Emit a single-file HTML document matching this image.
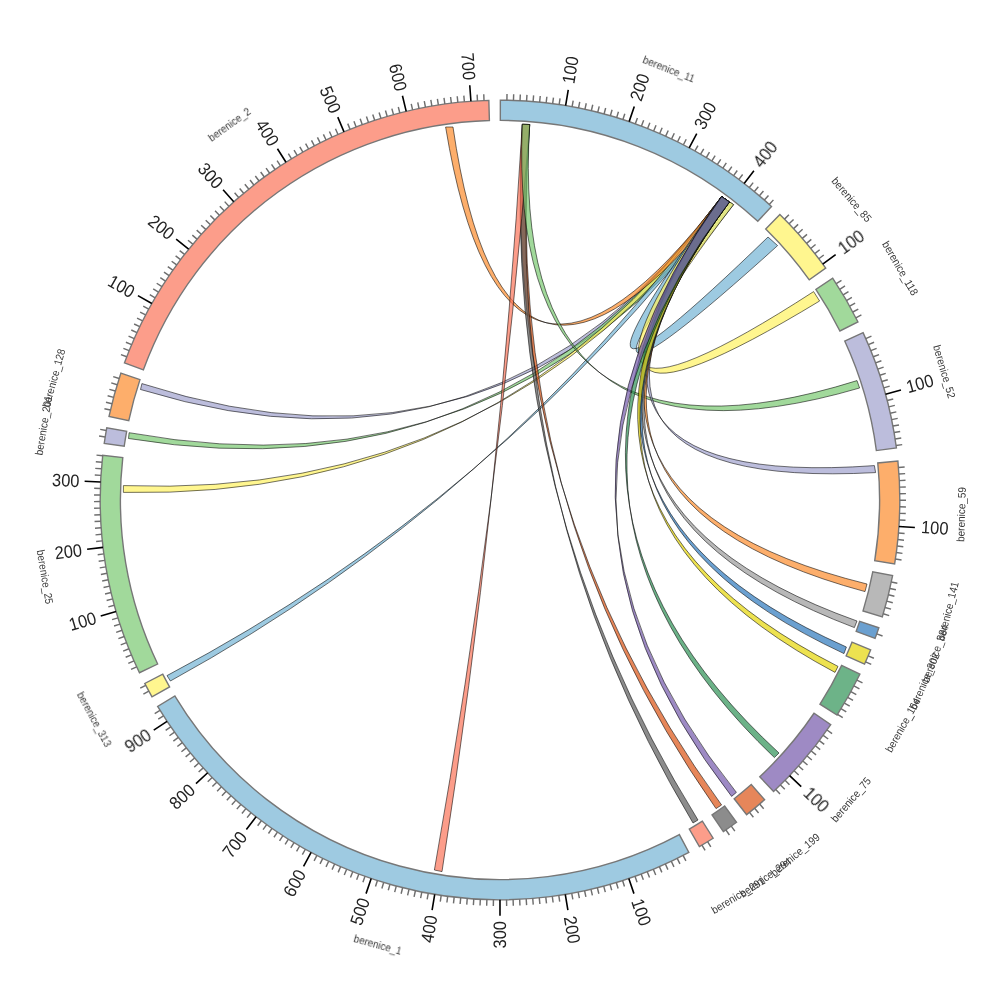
<!DOCTYPE html>
<html><head><meta charset="utf-8"><title>chord</title>
<style>html,body{margin:0;padding:0;background:#fff;}svg{display:block;}</style>
</head><body>
<svg width="1000" height="1000" viewBox="0 0 1000 1000">
<rect width="1000" height="1000" fill="#ffffff"/>
<g stroke="#000" stroke-opacity="0.85" stroke-width="0.65" stroke-linejoin="round" fill-opacity="0.70">
<path d="M721.6,196.6 Q499.92,499.76 140.5,389.5 L141.9,383.6 Q499.97,499.89 729.4,202 Z" fill="#9fa1cd"/>
<path d="M721.6,196.6 Q500,500 128.5,438.5 L129.1,432.7 Q500,500 729.4,202 Z" fill="#79c970"/>
<path d="M721.6,196.6 Q500,500 123.4,492.4 L123.4,485.6 Q500,500 726.28,199.84 Z" fill="#fff25f"/>
<path d="M721.6,196.6 Q500,500 170.4,681 L167,675.6 Q500,500 726.67,200.11 Z" fill="#74b3d4"/>
<path d="M721.6,196.6 Q504.3,482.65 445.6,127 L453,127 Q504.63,482.68 726.67,200.11 Z" fill="#fc8b2c"/>
<path d="M522.3,124.3 Q500,500 721.6,805 L716,808.6 Q500,500 529.7,124.5 Z" fill="#db5213"/>
<path d="M522.3,124.3 Q500,500 698,820 L693,823 Q500,500 529.7,124.5 Z" fill="#5b5b5b"/>
<path d="M522.3,124.3 Q500,500 442,871.6 L434.4,870 Q500,500 529.7,124.5 Z" fill="#fb7358"/>
<path d="M721.6,196.6 Q517.94,479.24 768,237 L777.6,245.6 Q518.73,479.86 733.6,204.6 Z" fill="#74b3d4"/>
<path d="M721.6,196.6 Q517.69,483.08 813.6,291.6 L819.6,301 Q518.35,483.6 733.6,204.6 Z" fill="#fff25f"/>
<path d="M522.3,124.3 Q506.95,490.93 857,380.6 L859.6,388 Q507.12,491.09 529.7,124.5 Z" fill="#79c970"/>
<path d="M721.6,196.6 Q514.57,491.74 874.4,465.6 L875.6,472.6 Q514.83,492.02 729.4,202 Z" fill="#9fa1cd"/>
<path d="M721.6,196.6 Q511.05,495.87 867,584 L865,591.6 Q511.21,496.11 729.4,202 Z" fill="#fc8b2c"/>
<path d="M721.6,196.6 Q509.73,496.92 857,621 L854.4,627.6 Q509.89,497.11 729.4,202 Z" fill="#9a9a9a"/>
<path d="M721.6,196.6 Q508.71,497.59 846.4,647 L844,653.6 Q508.87,497.76 729.4,202 Z" fill="#2c77bc"/>
<path d="M721.6,196.6 Q507.93,498.05 838,666.4 L835,672.4 Q508.08,498.2 729.4,202 Z" fill="#e5d605"/>
<path d="M721.6,196.6 Q503.78,499.61 779,753 L774.4,757.6 Q503.91,499.68 729.4,202 Z" fill="#2e9255"/>
<path d="M721.6,196.6 Q501.39,499.97 736.4,792.4 L731.6,796.4 Q501.53,499.99 729.4,202 Z" fill="#7458ab"/>
</g>
<g stroke="#777" stroke-width="1.4" stroke-linejoin="miter">
<path d="M500.35,100.2 A399.8,399.8 0 0 1 771.49,206.51 L757.77,221.34 A379.6,379.6 0 0 0 500.33,120.4 Z" fill="#9ecae1"/>
<path d="M779.87,214.5 A399.8,399.8 0 0 1 825.73,268.18 L809.27,279.89 A379.6,379.6 0 0 0 765.73,228.93 Z" fill="#fff68f"/>
<path d="M832.65,278.23 A399.8,399.8 0 0 1 857.98,321.98 L839.89,330.98 A379.6,379.6 0 0 0 815.85,289.44 Z" fill="#a1d99b"/>
<path d="M863.08,332.62 A399.8,399.8 0 0 1 896.4,447.95 L876.37,450.58 A379.6,379.6 0 0 0 844.73,341.08 Z" fill="#bcbddc"/>
<path d="M897.89,460.99 A399.8,399.8 0 0 1 894.66,563.92 L874.72,560.69 A379.6,379.6 0 0 0 877.79,462.96 Z" fill="#fdae6b"/>
<path d="M892.59,575.6 A399.8,399.8 0 0 1 882.35,616.82 L863.03,610.92 A379.6,379.6 0 0 0 872.75,571.78 Z" fill="#b8b8b8"/>
<path d="M878.85,627.72 A399.8,399.8 0 0 1 875.09,638.38 L856.14,631.39 A379.6,379.6 0 0 0 859.71,621.27 Z" fill="#6ba0d0"/>
<path d="M870.69,649.77 A399.8,399.8 0 0 1 864.58,664.08 L846.16,655.79 A379.6,379.6 0 0 0 851.96,642.2 Z" fill="#ede250"/>
<path d="M859.86,674.19 A399.8,399.8 0 0 1 837.04,715.05 L820.01,704.18 A379.6,379.6 0 0 0 841.67,665.39 Z" fill="#6db388"/>
<path d="M830.75,724.61 A399.8,399.8 0 0 1 773.58,791.54 L759.76,776.81 A379.6,379.6 0 0 0 814.03,713.26 Z" fill="#9e8ac4"/>
<path d="M764.6,799.71 A399.8,399.8 0 0 1 746.64,814.66 L734.17,798.76 A379.6,379.6 0 0 0 751.23,784.57 Z" fill="#e6865a"/>
<path d="M736.57,822.29 A399.8,399.8 0 0 1 723.33,831.61 L712.05,814.85 A379.6,379.6 0 0 0 724.62,806.01 Z" fill="#8c8c8c"/>
<path d="M713.16,838.23 A399.8,399.8 0 0 1 699.36,846.55 L689.28,829.04 A379.6,379.6 0 0 0 702.39,821.14 Z" fill="#fc9d8a"/>
<path d="M688.86,852.38 A399.8,399.8 0 0 1 157.63,706.45 L174.93,696.02 A379.6,379.6 0 0 0 679.32,834.57 Z" fill="#9ecae1"/>
<path d="M152,696.81 A399.8,399.8 0 0 1 144.76,683.43 L162.71,674.16 A379.6,379.6 0 0 0 169.58,686.87 Z" fill="#fff68f"/>
<path d="M139.45,672.75 A399.8,399.8 0 0 1 102.71,455.3 L122.78,457.55 A379.6,379.6 0 0 0 157.66,664.02 Z" fill="#a1d99b"/>
<path d="M104.23,443.39 A399.8,399.8 0 0 1 106.79,427.69 L126.66,431.34 A379.6,379.6 0 0 0 124.22,446.25 Z" fill="#bcbddc"/>
<path d="M109.02,416.47 A399.8,399.8 0 0 1 120.84,373.21 L140,379.61 A379.6,379.6 0 0 0 128.78,420.69 Z" fill="#fdae6b"/>
<path d="M124.43,362.93 A399.8,399.8 0 0 1 488.84,100.36 L489.4,120.55 A379.6,379.6 0 0 0 143.41,369.86 Z" fill="#fc9d8a"/>
</g>
<path d="M506.91,100.26 L507.01,94.06 M513.46,100.43 L513.67,94.23 M520.01,100.7 L520.32,94.51 M526.56,101.08 L526.97,94.9 M533.1,101.57 L533.61,95.39 M539.63,102.17 L540.24,96 M546.15,102.87 L546.86,96.71 M552.65,103.68 L553.47,97.54 M559.14,104.6 L560.06,98.47 M572.08,106.75 L573.2,100.65 M578.52,107.99 L579.74,101.91 M584.94,109.33 L586.26,103.27 M591.33,110.77 L592.75,104.74 M597.71,112.32 L599.22,106.31 M604.05,113.98 L605.66,107.99 M610.37,115.74 L612.08,109.78 M616.65,117.6 L618.46,111.67 M622.91,119.56 L624.82,113.66 M635.32,123.8 L637.42,117.96 M641.47,126.07 L643.67,120.27 M647.59,128.44 L649.87,122.68 M653.66,130.91 L656.04,125.18 M659.69,133.48 L662.17,127.79 M665.68,136.15 L668.25,130.5 M671.63,138.91 L674.29,133.31 M677.53,141.78 L680.28,136.22 M683.38,144.73 L686.22,139.23 M694.93,150.94 L697.95,145.53 M700.63,154.18 L703.74,148.82 M706.27,157.52 L709.47,152.21 M711.86,160.95 L715.15,155.69 M717.39,164.47 L720.76,159.27 M722.87,168.08 L726.32,162.93 M728.28,171.78 L731.82,166.69 M733.63,175.57 L737.25,170.54 M738.92,179.44 L742.63,174.47 M749.31,187.45 L753.17,182.6 M754.4,191.58 L758.34,186.8 M759.42,195.8 L763.44,191.08 M764.38,200.09 L768.48,195.44 M769.26,204.47 L773.43,199.88 M784.52,219.13 L788.93,214.77 M789.09,223.83 L793.57,219.55 M793.58,228.61 L798.13,224.4 M797.99,233.46 L802.61,229.33 M802.32,238.38 L807.01,234.33 M806.57,243.38 L811.32,239.4 M810.74,248.44 L815.56,244.54 M814.82,253.57 L819.7,249.75 M818.82,258.77 L823.76,255.03 M836.25,283.72 L841.46,280.36 M839.75,289.26 L845.02,285.99 M843.16,294.86 L848.48,291.68 M846.48,300.52 L851.85,297.42 M849.7,306.22 L855.12,303.22 M852.83,311.99 L858.3,309.07 M855.87,317.8 L861.39,314.97 M865.77,338.6 L871.44,336.09 M868.37,344.62 L874.08,342.21 M870.87,350.68 L876.62,348.36 M873.27,356.78 L879.06,354.56 M875.57,362.92 L881.39,360.8 M877.76,369.1 L883.62,367.07 M879.86,375.31 L885.75,373.38 M881.85,381.56 L887.78,379.72 M883.74,387.84 L889.7,386.1 M887.22,400.48 L893.22,398.94 M888.8,406.85 L894.83,405.4 M890.27,413.24 L896.32,411.89 M891.64,419.65 L897.72,418.4 M892.91,426.08 L899,424.94 M894.07,432.54 L900.18,431.49 M895.12,439.01 L901.25,438.06 M896.07,445.5 L902.21,444.65 M898.48,467.52 L904.66,467.01 M898.96,474.06 L905.14,473.65 M899.33,480.6 L905.52,480.3 M899.59,487.15 L905.79,486.96 M899.75,493.71 L905.95,493.61 M899.8,500.27 L906,500.27 M899.74,506.82 L905.94,506.93 M899.58,513.38 L905.77,513.59 M899.3,519.93 L905.5,520.24 M898.43,533.01 L904.61,533.53 M897.84,539.54 L904.01,540.16 M897.14,546.06 L903.3,546.78 M896.33,552.57 L902.47,553.39 M895.41,559.06 L901.55,559.98 M891.29,582.03 L897.36,583.3 M889.9,588.43 L895.94,589.81 M888.39,594.82 L894.42,596.29 M886.79,601.17 L892.78,602.74 M885.08,607.5 L891.05,609.17 M883.26,613.8 L889.2,615.57 M876.71,633.91 L882.55,635.99 M868.18,655.83 L873.89,658.24 M865.58,661.84 L871.25,664.35 M856.95,680.07 L862.49,682.86 M853.95,685.9 L859.44,688.78 M850.85,691.68 L856.29,694.65 M847.66,697.41 L853.05,700.47 M844.38,703.09 L849.72,706.23 M841,708.71 L846.29,711.94 M837.53,714.27 L842.77,717.59 M827.02,730 L832.09,733.57 M823.2,735.33 L828.21,738.98 M819.3,740.6 L824.25,744.33 M815.31,745.8 L820.2,749.62 M811.24,750.94 L816.06,754.83 M807.08,756.01 L811.84,759.98 M802.84,761.02 L807.53,765.06 M798.52,765.95 L803.15,770.07 M794.12,770.81 L798.68,775.01 M785.08,780.31 L789.5,784.65 M780.44,784.94 L784.79,789.36 M775.73,789.51 L780.01,793.99 M759.65,804.01 L763.68,808.72 M754.63,808.23 L758.58,813.01 M749.54,812.36 L753.41,817.2 M731.26,826.13 L734.84,831.19 M725.88,829.88 L729.38,834.99 M707.59,841.68 L710.81,846.98 M701.95,845.04 L705.09,850.39 M683.06,855.43 L685.9,860.94 M677.21,858.38 L679.95,863.94 M671.3,861.24 L673.96,866.84 M665.36,864 L667.92,869.65 M659.37,866.66 L661.84,872.35 M653.33,869.23 L655.71,874.95 M647.25,871.69 L649.54,877.46 M641.14,874.06 L643.33,879.86 M634.99,876.32 L637.08,882.16 M622.57,880.55 L624.47,886.45 M616.31,882.51 L618.12,888.44 M610.02,884.36 L611.73,890.32 M603.71,886.12 L605.31,892.1 M597.36,887.76 L598.87,893.78 M590.99,889.31 L592.4,895.35 M584.59,890.75 L585.9,896.81 M578.17,892.08 L579.38,898.16 M571.73,893.31 L572.84,899.41 M558.79,895.45 L559.7,901.59 M552.3,896.36 L553.11,902.51 M545.79,897.17 L546.5,903.33 M539.27,897.87 L539.88,904.04 M532.74,898.46 L533.25,904.64 M526.2,898.94 L526.61,905.13 M519.66,899.32 L519.96,905.51 M513.1,899.59 L513.31,905.78 M506.55,899.75 L506.65,905.95 M493.44,899.75 L493.33,905.95 M486.88,899.58 L486.68,905.78 M480.33,899.32 L480.02,905.51 M473.78,898.94 L473.38,905.13 M467.24,898.46 L466.74,904.64 M460.71,897.87 L460.1,904.04 M454.19,897.17 L453.48,903.33 M447.69,896.36 L446.88,902.51 M441.19,895.45 L440.28,901.58 M428.26,893.31 L427.14,899.41 M421.82,892.08 L420.6,898.16 M415.4,890.75 L414.08,896.81 M409,889.31 L407.59,895.34 M402.63,887.76 L401.12,893.77 M396.28,886.11 L394.67,892.1 M389.96,884.36 L388.26,890.32 M383.67,882.5 L381.87,888.43 M377.42,880.54 L375.51,886.44 M365,876.32 L362.91,882.15 M358.85,874.05 L356.66,879.85 M352.73,871.69 L350.45,877.45 M346.66,869.22 L344.28,874.95 M340.62,866.66 L338.15,872.34 M334.63,864 L332.07,869.64 M328.68,861.23 L326.03,866.84 M322.78,858.38 L320.03,863.93 M316.93,855.42 L314.09,860.93 M305.37,849.23 L302.35,854.64 M299.67,845.99 L296.56,851.35 M294.02,842.66 L290.83,847.97 M288.43,839.23 L285.15,844.49 M282.89,835.72 L279.53,840.92 M277.42,832.11 L273.97,837.26 M272,828.42 L268.47,833.51 M266.65,824.63 L263.03,829.67 M261.35,820.76 L257.65,825.74 M250.96,812.76 L247.1,817.61 M245.87,808.64 L241.93,813.42 M240.84,804.43 L236.82,809.15 M235.88,800.14 L231.78,804.79 M230.99,795.76 L226.82,800.35 M226.18,791.31 L221.93,795.83 M221.44,786.78 L217.12,791.23 M216.77,782.17 L212.38,786.55 M212.18,777.49 L207.72,781.8 M203.24,767.9 L198.64,772.06 M198.88,763 L194.21,767.08 M194.61,758.03 L189.88,762.03 M190.42,752.98 L185.62,756.91 M186.31,747.87 L181.45,751.72 M182.29,742.69 L177.36,746.46 M178.35,737.45 L173.36,741.13 M174.5,732.14 L169.45,735.74 M170.74,726.78 L165.63,730.29 M163.48,715.85 L158.26,719.2 M159.98,710.31 L154.71,713.57 M148.82,691.08 L143.37,694.04 M145.73,685.29 L140.24,688.16 M136.66,666.81 L131.03,669.4 M133.98,660.83 L128.3,663.32 M131.39,654.81 L125.67,657.21 M128.9,648.74 L123.14,651.05 M126.51,642.63 L120.72,644.85 M124.22,636.49 L118.39,638.61 M122.03,630.31 L116.17,632.33 M119.95,624.09 L114.05,626.02 M117.96,617.84 L112.04,619.67 M114.3,605.25 L108.32,606.88 M112.63,598.91 L106.62,600.44 M111.06,592.54 L105.03,593.98 M109.59,586.15 L103.54,587.49 M108.23,579.74 L102.16,580.97 M106.98,573.3 L100.88,574.44 M105.83,566.85 L99.72,567.88 M104.78,560.37 L98.66,561.31 M103.85,553.88 L97.7,554.72 M102.29,540.86 L96.13,541.5 M101.68,534.33 L95.5,534.87 M101.17,527.8 L94.98,528.23 M100.77,521.25 L94.57,521.58 M100.47,514.7 L94.27,514.93 M100.28,508.15 L94.08,508.27 M100.2,501.59 L94,501.62 M100.23,495.03 L94.03,494.96 M100.37,488.48 L94.17,488.3 M100.96,475.38 L94.77,475 M101.42,468.84 L95.24,468.35 M101.98,462.31 L95.81,461.72 M102.65,455.78 L96.49,455.1 M105.21,436.91 L99.09,435.93 M106.3,430.44 L100.19,429.36 M110.45,410.07 L104.41,408.67 M111.97,403.69 L105.96,402.2 M113.61,397.34 L107.61,395.75 M115.34,391.02 L109.38,389.33 M117.18,384.72 L111.24,382.93 M119.12,378.46 L113.22,376.57 M126.73,356.79 L120.94,354.57 M129.13,350.69 L123.38,348.37 M131.63,344.63 L125.91,342.22 M134.22,338.61 L128.55,336.1 M136.92,332.63 L131.29,330.03 M139.71,326.7 L134.13,324.01 M142.6,320.81 L137.06,318.03 M145.59,314.97 L140.1,312.11 M148.67,309.19 L143.22,306.23 M155.12,297.77 L149.77,294.63 M158.48,292.14 L153.19,288.92 M161.94,286.57 L156.7,283.26 M165.48,281.05 L160.3,277.65 M169.12,275.59 L163.99,272.11 M172.84,270.2 L167.77,266.63 M176.66,264.86 L171.64,261.22 M180.56,259.59 L175.6,255.86 M184.54,254.39 L179.65,250.58 M192.77,244.17 L188,240.2 M197,239.17 L192.31,235.12 M201.32,234.23 L196.69,230.11 M205.72,229.37 L201.16,225.17 M210.2,224.58 L205.71,220.31 M214.76,219.87 L210.33,215.52 M219.39,215.22 L215.04,210.81 M224.1,210.66 L219.82,206.17 M228.88,206.17 L224.67,201.62 M238.66,197.44 L234.61,192.75 M243.66,193.2 L239.68,188.44 M248.72,189.03 L244.83,184.21 M253.86,184.95 L250.04,180.07 M259.06,180.96 L255.32,176.01 M264.32,177.05 L260.67,172.04 M269.65,173.23 L266.08,168.16 M275.04,169.5 L271.55,164.37 M280.49,165.85 L277.09,160.67 M291.57,158.83 L288.34,153.54 M297.19,155.46 L294.05,150.12 M302.87,152.18 L299.81,146.79 M308.6,148.99 L305.63,143.55 M314.38,145.9 L311.5,140.41 M320.21,142.9 L317.43,137.37 M326.09,140 L323.4,134.42 M332.02,137.2 L329.42,131.57 M337.99,134.49 L335.48,128.83 M350.07,129.38 L347.74,123.63 M356.17,126.97 L353.94,121.18 M362.3,124.66 L360.17,118.84 M368.48,122.45 L366.44,116.6 M374.69,120.35 L372.74,114.46 M380.93,118.34 L379.08,112.42 M387.21,116.44 L385.46,110.49 M393.51,114.64 L391.86,108.67 M399.85,112.95 L398.29,106.95 M412.59,109.87 L411.24,103.82 M419,108.49 L417.75,102.42 M425.44,107.21 L424.28,101.12 M431.89,106.04 L430.83,99.94 M438.36,104.98 L437.4,98.85 M444.84,104.02 L443.99,97.88 M451.35,103.17 L450.59,97.02 M457.86,102.43 L457.21,96.26 M464.39,101.79 L463.83,95.61 M477.46,100.84 L477.12,94.65 M484.01,100.52 L483.77,94.32" stroke="#6e6e6e" stroke-width="1.45" fill="none"/>
<path d="M565.62,105.62 L568.25,89.84 M629.13,121.63 L634.3,106.49 M689.18,147.79 L696.75,133.69 M744.15,183.4 L753.92,170.73 M822.73,264.03 L835.65,254.58 M885.53,394.15 L900.96,389.91 M898.92,526.48 L914.89,527.53 M789.63,775.59 L801.23,786.62 M628.8,878.49 L633.95,893.63 M565.27,894.44 L567.88,910.22 M499.99,899.8 L499.99,915.8 M434.72,894.43 L432.1,910.22 M371.19,878.48 L366.04,893.63 M311.12,852.37 L303.56,866.47 M256.12,816.8 L246.36,829.48 M207.67,772.73 L195.97,783.65 M167.06,721.34 L153.74,730.2 M116.08,611.56 L100.72,616.03 M103.02,547.38 L87.13,549.28 M100.61,481.93 L84.63,481.2 M151.85,303.45 L137.92,295.59 M188.61,249.24 L176.15,239.21 M233.73,201.77 L223.08,189.83 M286,162.3 L277.44,148.78 M344.01,131.89 L337.77,117.15 M406.21,111.36 L402.45,95.8 M470.92,101.26 L469.76,85.3" stroke="#000" stroke-width="1.6" fill="none"/>
<g font-family="'Liberation Sans', sans-serif" font-size="18" fill="#222" opacity="0.999" text-rendering="geometricPrecision">
<text transform="translate(569.27,83.72) rotate(-80.55)" text-anchor="start" textLength="27.45" lengthAdjust="spacingAndGlyphs" dy="5.1">100</text>
<text transform="translate(636.3,100.62) rotate(-71.16)" text-anchor="start" textLength="27.45" lengthAdjust="spacingAndGlyphs" dy="5.1">200</text>
<text transform="translate(699.68,128.23) rotate(-61.76)" text-anchor="start" textLength="27.45" lengthAdjust="spacingAndGlyphs" dy="5.1">300</text>
<text transform="translate(757.7,165.82) rotate(-52.36)" text-anchor="start" textLength="27.45" lengthAdjust="spacingAndGlyphs" dy="5.1">400</text>
<text transform="translate(840.65,250.92) rotate(-36.17)" text-anchor="start" textLength="27.45" lengthAdjust="spacingAndGlyphs" dy="5.1">100</text>
<text transform="translate(906.94,388.27) rotate(-15.35)" text-anchor="start" textLength="27.45" lengthAdjust="spacingAndGlyphs" dy="5.1">100</text>
<text transform="translate(921.07,527.95) rotate(3.8)" text-anchor="start" textLength="27.45" lengthAdjust="spacingAndGlyphs" dy="5.1">100</text>
<text transform="translate(805.72,790.9) rotate(43.58)" text-anchor="start" textLength="27.45" lengthAdjust="spacingAndGlyphs" dy="5.1">100</text>
<text transform="translate(635.95,899.5) rotate(71.21)" text-anchor="start" textLength="27.45" lengthAdjust="spacingAndGlyphs" dy="5.1">100</text>
<text transform="translate(568.89,916.34) rotate(80.6)" text-anchor="start" textLength="27.45" lengthAdjust="spacingAndGlyphs" dy="5.1">200</text>
<text transform="translate(499.99,921) rotate(-90)" text-anchor="end" textLength="27.45" lengthAdjust="spacingAndGlyphs" dy="6.2">300</text>
<text transform="translate(431.25,915.35) rotate(-80.6)" text-anchor="end" textLength="27.45" lengthAdjust="spacingAndGlyphs" dy="6.2">400</text>
<text transform="translate(364.36,898.55) rotate(-71.2)" text-anchor="end" textLength="27.45" lengthAdjust="spacingAndGlyphs" dy="6.2">500</text>
<text transform="translate(301.11,871.06) rotate(-61.81)" text-anchor="end" textLength="27.45" lengthAdjust="spacingAndGlyphs" dy="6.2">600</text>
<text transform="translate(243.19,833.6) rotate(-52.41)" text-anchor="end" textLength="27.45" lengthAdjust="spacingAndGlyphs" dy="6.2">700</text>
<text transform="translate(192.17,787.2) rotate(-43.01)" text-anchor="end" textLength="27.45" lengthAdjust="spacingAndGlyphs" dy="6.2">800</text>
<text transform="translate(149.41,733.08) rotate(-33.62)" text-anchor="end" textLength="27.45" lengthAdjust="spacingAndGlyphs" dy="6.2">900</text>
<text transform="translate(95.72,617.48) rotate(-16.2)" text-anchor="end" textLength="27.45" lengthAdjust="spacingAndGlyphs" dy="6.2">100</text>
<text transform="translate(81.97,549.89) rotate(-6.81)" text-anchor="end" textLength="27.45" lengthAdjust="spacingAndGlyphs" dy="6.2">200</text>
<text transform="translate(79.43,480.97) rotate(2.59)" text-anchor="end" textLength="27.45" lengthAdjust="spacingAndGlyphs" dy="6.2">300</text>
<text transform="translate(133.39,293.03) rotate(29.45)" text-anchor="end" textLength="27.45" lengthAdjust="spacingAndGlyphs" dy="6.2">100</text>
<text transform="translate(172.1,235.95) rotate(38.84)" text-anchor="end" textLength="27.45" lengthAdjust="spacingAndGlyphs" dy="6.2">200</text>
<text transform="translate(219.61,185.95) rotate(48.24)" text-anchor="end" textLength="27.45" lengthAdjust="spacingAndGlyphs" dy="6.2">300</text>
<text transform="translate(274.65,144.39) rotate(57.64)" text-anchor="end" textLength="27.45" lengthAdjust="spacingAndGlyphs" dy="6.2">400</text>
<text transform="translate(335.74,112.37) rotate(67.04)" text-anchor="end" textLength="27.45" lengthAdjust="spacingAndGlyphs" dy="6.2">500</text>
<text transform="translate(401.23,90.75) rotate(76.43)" text-anchor="end" textLength="27.45" lengthAdjust="spacingAndGlyphs" dy="6.2">600</text>
<text transform="translate(469.38,80.12) rotate(85.83)" text-anchor="end" textLength="27.45" lengthAdjust="spacingAndGlyphs" dy="6.2">700</text>
</g>
<g font-family="'Liberation Sans', sans-serif" font-size="11" fill="#3a3a3a" text-anchor="middle" opacity="0.999" text-rendering="geometricPrecision">
<text transform="translate(668.65,69.88) rotate(21.41)" dy="3.3" textLength="54.81" lengthAdjust="spacingAndGlyphs">berenice_11</text>
<text transform="translate(851.28,199.92) rotate(49.5)" dy="3.3" textLength="54.81" lengthAdjust="spacingAndGlyphs">berenice_85</text>
<text transform="translate(899.84,268.55) rotate(59.94)" dy="3.3" textLength="60.35" lengthAdjust="spacingAndGlyphs">berenice_118</text>
<text transform="translate(943.85,371.76) rotate(73.88)" dy="3.3" textLength="54.81" lengthAdjust="spacingAndGlyphs">berenice_52</text>
<text transform="translate(961.77,514.51) rotate(-88.2)" dy="3.3" textLength="54.81" lengthAdjust="spacingAndGlyphs">berenice_59</text>
<text transform="translate(948.38,611.34) rotate(-76.06)" dy="3.3" textLength="60.35" lengthAdjust="spacingAndGlyphs">berenice_141</text>
<text transform="translate(935.66,653.76) rotate(-70.56)" dy="3.3" textLength="60.35" lengthAdjust="spacingAndGlyphs">berenice_384</text>
<text transform="translate(924.91,681.37) rotate(-66.88)" dy="3.3" textLength="60.35" lengthAdjust="spacingAndGlyphs">berenice_302</text>
<text transform="translate(903.35,725.29) rotate(-60.81)" dy="3.3" textLength="60.35" lengthAdjust="spacingAndGlyphs">berenice_164</text>
<text transform="translate(851.31,800.04) rotate(-49.5)" dy="3.3" textLength="54.81" lengthAdjust="spacingAndGlyphs">berenice_75</text>
<text transform="translate(795.51,855.13) rotate(-39.76)" dy="3.3" textLength="60.35" lengthAdjust="spacingAndGlyphs">berenice_199</text>
<text transform="translate(765.78,877.89) rotate(-35.12)" dy="3.3" textLength="60.35" lengthAdjust="spacingAndGlyphs">berenice_294</text>
<text transform="translate(738.4,895.74) rotate(-31.06)" dy="3.3" textLength="60.35" lengthAdjust="spacingAndGlyphs">berenice_291</text>
<text transform="translate(377.62,945.5) rotate(15.36)" dy="3.3" textLength="49.27" lengthAdjust="spacingAndGlyphs">berenice_1</text>
<text transform="translate(93.6,719.74) rotate(61.6)" dy="3.3" textLength="60.35" lengthAdjust="spacingAndGlyphs">berenice_313</text>
<text transform="translate(44.46,576.97) rotate(80.41)" dy="3.3" textLength="54.81" lengthAdjust="spacingAndGlyphs">berenice_25</text>
<text transform="translate(44.05,425.5) rotate(-80.72)" dy="3.3" textLength="60.35" lengthAdjust="spacingAndGlyphs">berenice_201</text>
<text transform="translate(54.32,378.29) rotate(-74.73)" dy="3.3" textLength="60.35" lengthAdjust="spacingAndGlyphs">berenice_128</text>
<text transform="translate(229.91,125.17) rotate(-35.77)" dy="3.3" textLength="49.27" lengthAdjust="spacingAndGlyphs">berenice_2</text>
</g>
</svg>
</body></html>
